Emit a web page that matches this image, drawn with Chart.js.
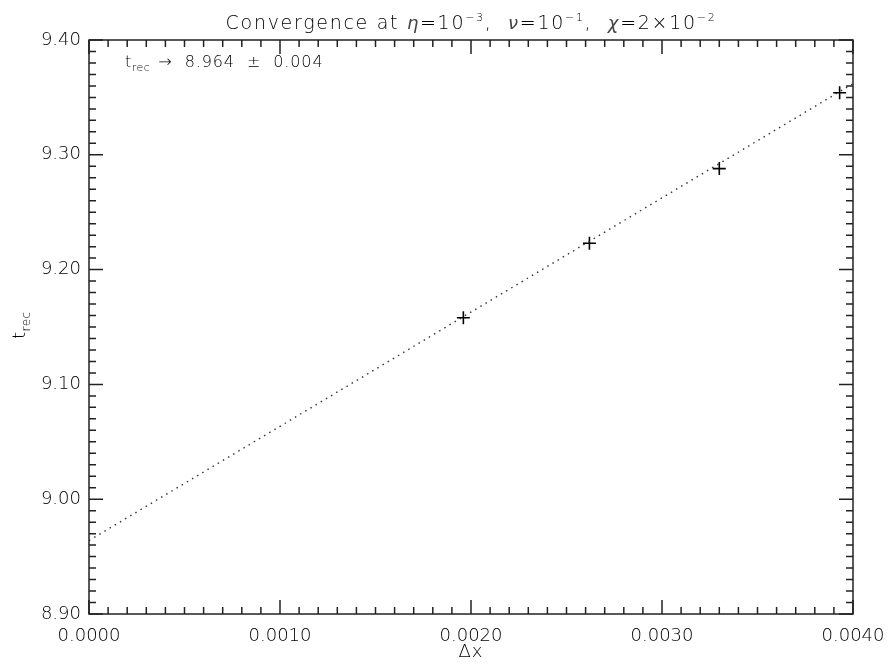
<!DOCTYPE html>
<html>
<head>
<meta charset="utf-8">
<script src="https://cdn.jsdelivr.net/npm/chart.js@4.4.1/dist/chart.umd.min.js"></script>
<style>
  html, body { margin: 0; padding: 0; background: #fff; }
  canvas { display: block; }
</style>
</head>
<body>
<canvas id="conv" width="888" height="671"></canvas>
<script>
// grid spacing and recombination time at each resolution
var dx = [0.00196, 0.00262, 0.00330, 0.00393];
var trec = [9.158, 9.223, 9.288, 9.354];

// linear extrapolation to dx -> 0
var fitDx = [0.0, 0.0040];
var fitTrec = [8.964, 9.362];

var xTicks = ["0.0000", "0.0010", "0.0020", "0.0030", "0.0040"];
var yTicks = ["8.90", "9.00", "9.10", "9.20", "9.30", "9.40"];

var ink = "#000";
var frameInk = "#222";
var face = "DejaVu Sans";
var weight = "200";

function pairs(xs, ys) {
  var out = [];
  for (var i = 0; i < xs.length; i++) out.push({x: xs[i], y: ys[i]});
  return out;
}

function fontOf(p) {
  // the light face has no greek italics, so those fall back to the regular one
  var w = p.italic ? "normal" : weight;
  return (p.italic ? "italic " : "") + w + " " + (p.size || 19) + "px '" + face + "'";
}

// draw a run of [text, style] pieces starting at x, baseline y
function drawRun(ctx, pieces, x, y, spacing) {
  ctx.letterSpacing = spacing + "px";
  pieces.forEach(function (p) {
    ctx.font = fontOf(p);
    ctx.fillStyle = p.italic ? "#444" : ink;
    ctx.fillText(p.t, x, y - (p.rise || 0));
    x += ctx.measureText(p.t).width;
  });
  return x;
}
function runWidth(ctx, pieces, spacing) {
  ctx.letterSpacing = spacing + "px";
  var w = 0;
  pieces.forEach(function (p) {
    ctx.font = fontOf(p);
    w += ctx.measureText(p.t).width;
  });
  return w;
}

var frame = {
  id: "frame",
  afterDraw: function (chart) {
    var ctx = chart.ctx, a = chart.chartArea;
    var xs = chart.scales.x, ys = chart.scales.y;
    ctx.save();
    ctx.strokeStyle = frameInk;
    ctx.lineWidth = 1.5;
    ctx.strokeRect(a.left, a.top, a.right - a.left, a.bottom - a.top);

    // inward ticks on all four sides
    ctx.beginPath();
    for (var i = 0; i <= 40; i++) {
      var px = xs.getPixelForValue(i * 0.0001);
      var len = (i % 10 === 0) ? 14 : 7;
      ctx.moveTo(px, a.bottom); ctx.lineTo(px, a.bottom - len);
      ctx.moveTo(px, a.top); ctx.lineTo(px, a.top + len);
    }
    for (var j = 0; j <= 50; j++) {
      var py = ys.getPixelForValue(8.9 + j * 0.01);
      var ylen = (j % 10 === 0) ? 14 : 7;
      ctx.moveTo(a.left, py); ctx.lineTo(a.left + ylen, py);
      ctx.moveTo(a.right, py); ctx.lineTo(a.right - ylen, py);
    }
    ctx.stroke();

    ctx.textBaseline = "alphabetic";
    ctx.textAlign = "left";

    // title
    var title = [
      {t: "Convergence at "},
      {t: "\u03B7", italic: true, size: 18},
      {t: "=10"},
      {t: "\u22123", size: 11, rise: 8},
      {t: ",  "},
      {t: "\u03BD", italic: true, size: 18},
      {t: "=10"},
      {t: "\u22121", size: 11, rise: 8},
      {t: ",  "},
      {t: "\u03C7", italic: true, size: 18},
      {t: "=2\u00D710"},
      {t: "\u22122", size: 11, rise: 8}
    ];
    var tw = runWidth(ctx, title, 1.7);
    drawRun(ctx, title, (a.left + a.right) / 2 - tw / 2, 29, 1.7);

    // extrapolated value
    var x0 = drawRun(ctx, [{t: "t", size: 16}, {t: "rec", size: 11, rise: -4}], 125, 67, 0.5);
    drawRun(ctx, [{t: " \u2192  8.964  \u00B1  0.004", size: 16}], x0 + 2, 67, 0.9);

    // x axis title
    ctx.textAlign = "center";
    ctx.letterSpacing = "1px";
    ctx.fillStyle = ink;
    ctx.font = fontOf({size: 18});
    ctx.fillText("\u0394x", (a.left + a.right) / 2, 657);

    // y axis title, rotated
    ctx.translate(25, 339);
    ctx.rotate(-Math.PI / 2);
    ctx.textAlign = "left";
    drawRun(ctx, [{t: "t", size: 18}, {t: "rec", size: 12, rise: -5}], 0, 0, 0.5);
    ctx.restore();
  }
};

new Chart(document.getElementById("conv").getContext("2d"), {
  type: "scatter",
  data: {
    datasets: [
      {
        label: "fit",
        data: pairs(fitDx, fitTrec),
        showLine: true,
        borderColor: "#333",
        borderWidth: 1.4,
        borderDash: [1.5, 4.5],
        pointRadius: 0,
        fill: false
      },
      {
        label: "runs",
        data: pairs(dx, trec),
        pointStyle: "cross",
        pointRadius: 6.5,
        pointBorderColor: "#000",
        pointBackgroundColor: "#000",
        pointBorderWidth: 1.6
      }
    ]
  },
  options: {
    responsive: false,
    animation: false,
    layout: { padding: { top: 40, right: 35, left: 0, bottom: 0 } },
    plugins: { legend: { display: false }, tooltip: { enabled: false } },
    scales: {
      x: {
        type: "linear",
        min: 0,
        max: 0.004,
        grid: { display: false, drawTicks: false },
        border: { display: false },
        ticks: {
          stepSize: 0.001,
          color: ink,
          padding: 12,
          maxRotation: 0,
          font: { family: face, size: 18, weight: weight },
          callback: function (v) {
            return xTicks[Math.round(v / 0.001)];
          }
        },
        afterFit: function (s) {
          s.height = 57;
          s.paddingLeft = 0;
          s.paddingRight = 0;
        }
      },
      y: {
        type: "linear",
        min: 8.9,
        max: 9.4,
        grid: { display: false, drawTicks: false },
        border: { display: false },
        ticks: {
          stepSize: 0.1,
          color: ink,
          padding: 8,
          font: { family: face, size: 18, weight: weight },
          callback: function (v) {
            return yTicks[Math.round((v - 8.9) / 0.1)];
          }
        },
        afterFit: function (s) {
          s.width = 89;
          s.paddingTop = 0;
          s.paddingBottom = 0;
        }
      }
    }
  },
  plugins: [frame]
});
</script>
</body>
</html>
